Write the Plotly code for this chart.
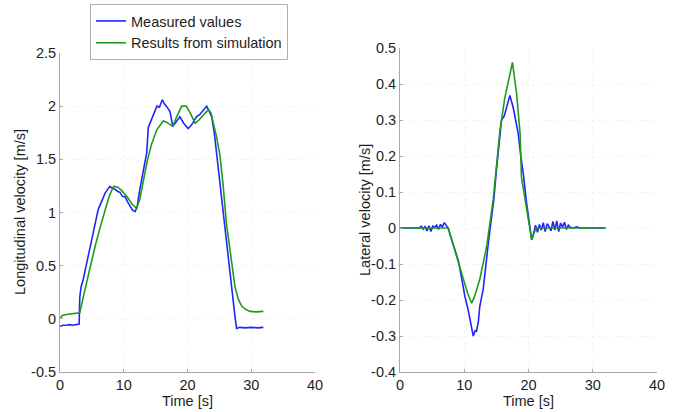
import plotly.graph_objects as go

# ---------------- data ----------------
# Left panel: longitudinal velocity [m/s]
long_meas_t = [0, 0.5, 1, 1.5, 2, 2.5, 3.0, 3.1, 3.3, 3.6, 4.0, 4.4, 5.0, 5.5, 6.0, 6.5,
               7.06, 7.5, 7.8, 8.2, 8.6, 9.0, 9.4, 9.8, 10.2, 10.6, 11.0, 11.4, 11.8, 12.1,
               12.5, 13.0, 13.6, 13.85, 14.4, 14.9, 15.2, 15.6, 16.05, 16.4, 16.7, 17.25,
               17.7, 18.2, 18.8, 19.4, 20.1, 20.6, 21.0, 21.4, 21.9, 22.4, 23.0, 23.5,
               23.8, 24.2, 24.6, 25.3, 26.1, 26.8, 27.45, 27.7, 28.2, 29, 30, 31, 31.9]
long_meas_v = [-0.07, -0.06, -0.06, -0.055, -0.06, -0.055, -0.05, 0.2, 0.3, 0.36, 0.47, 0.59,
               0.74, 0.86, 1.03, 1.10, 1.18, 1.22, 1.245, 1.23, 1.22, 1.20, 1.19, 1.15, 1.15,
               1.10, 1.06, 1.02, 1.01, 1.05, 1.21, 1.38, 1.56, 1.80, 1.88, 1.95, 2.00, 1.99,
               2.06, 2.02, 2.00, 1.95, 1.81, 1.85, 1.90, 1.84, 1.79, 1.82, 1.86, 1.90, 1.92,
               1.96, 2.00, 1.94, 1.90, 1.75, 1.53, 1.15, 0.74, 0.38, 0.02, -0.09, -0.08,
               -0.085, -0.08, -0.085, -0.08]

long_sim_t = [0, 0.3, 1.0, 2.0, 3.1, 3.9, 4.5, 5.5, 6.3, 7.06, 7.7, 8.4, 9.0, 9.6, 10.5,
              11.3, 12.0, 12.5, 13.1, 13.7, 14.4, 15.2, 16.2, 16.7, 17.7, 18.3, 19.1, 19.8,
              20.4, 21.2, 21.8, 22.4, 23.3, 23.7, 24.05, 24.6, 25.1, 25.6, 26.1, 26.8,
              27.45, 28.0, 28.5, 29.1, 29.8, 30.8, 31.9]
long_sim_v = [0.0, 0.03, 0.04, 0.05, 0.057, 0.27, 0.43, 0.68, 0.86, 1.03, 1.15, 1.245, 1.24,
              1.21, 1.15, 1.08, 1.04, 1.12, 1.31, 1.49, 1.65, 1.78, 1.86, 1.85, 1.81, 1.90,
              2.0, 2.0, 1.94, 1.84, 1.87, 1.91, 1.97, 1.93, 1.84, 1.70, 1.53, 1.25, 0.90,
              0.58, 0.30, 0.18, 0.12, 0.09, 0.07, 0.065, 0.07]

# Right panel: lateral velocity [m/s]
lat_meas_t = [0, 3.0, 3.3, 3.6, 3.9, 4.2, 4.5, 4.8, 5.1, 5.4, 5.7, 6.0, 6.3, 6.6, 6.9, 7.2,
              7.5, 8.0, 8.5, 9.07, 9.6, 10.1, 10.6, 11.0, 11.4, 11.7, 11.9, 12.2, 12.4,
              12.95, 13.3, 13.7, 14.25, 14.6, 15.0, 15.4, 15.8, 16.2, 16.6, 17.1, 17.6,
              18.0, 18.4, 18.8, 19.2, 19.7, 20.2, 20.5, 20.8, 21.1, 21.4, 21.7, 22.0, 22.3,
              22.6, 22.9, 23.2, 23.5, 23.8, 24.1, 24.4, 24.7, 25.0, 25.3, 25.6, 25.9, 26.2,
              26.5, 27.0, 27.5, 28, 32]
lat_meas_v = [0, 0, 0.005, -0.003, 0.004, -0.008, 0.006, -0.01, 0.005, 0.002, 0.008, -0.004,
              0.01, 0.003, 0.015, 0.008, 0.0, -0.03, -0.06, -0.09, -0.14, -0.19, -0.227,
              -0.26, -0.30, -0.285, -0.287, -0.26, -0.22, -0.17, -0.11, -0.05, 0.03, 0.078,
              0.16, 0.23, 0.30, 0.31, 0.336, 0.368, 0.336, 0.30, 0.262, 0.2, 0.15, 0.07,
              -0.005, -0.033, -0.015, 0.008, -0.012, 0.01, -0.006, 0.015, -0.01, 0.012,
              0.004, -0.008, 0.018, -0.006, 0.02, -0.01, 0.014, 0.002, 0.016, -0.004, 0.008,
              0.002, 0.0, 0.003, 0.0, 0.0]

lat_sim_t = [0, 7.5, 8.5, 9.5, 10.5, 11.15, 11.6, 12.4, 13.5, 14.5, 15.55, 16.3, 16.85,
             17.5, 18.15, 18.7, 18.9, 19.7, 20.5, 20.9, 21.2, 22, 32]
lat_sim_v = [0, 0, -0.06, -0.12, -0.18, -0.209, -0.19, -0.144, -0.05, 0.078, 0.27, 0.36,
             0.41, 0.46, 0.373, 0.26, 0.142, 0.05, -0.033, -0.012, 0.0, 0.0, 0.0]

x_ticks = [0, 10, 20, 30, 40]
x_ticktext = ["0", "10", "20", "30", "40"]
left_y_ticks = [-0.5, 0, 0.5, 1, 1.5, 2, 2.5]
left_y_ticktext = ["-0.5", "0", "0.5", "1", "1.5", "2", "2.5"]
right_y_ticks = [-0.4, -0.3, -0.2, -0.1, 0, 0.1, 0.2, 0.3, 0.4, 0.5]
right_y_ticktext = ["-0.4", "-0.3", "-0.2", "-0.1", "0", "0.1", "0.2", "0.3", "0.4", "0.5"]

series_names = ["Measured values", "Results from simulation"]

# ---------------- styling ----------------
W, H = 679, 412
BLUE = "#2323ff"
GREEN = "#1e9a1e"
FONT = "Liberation Sans, Arial, sans-serif"
TXT = "#1e1e1e"
AX = "#a8a8a8"
GRID = "#f3f3f3"
FS = 14.5

fig = go.Figure()
fig.add_trace(go.Scatter(x=long_meas_t, y=long_meas_v, mode="lines", name=series_names[0],
                         line=dict(color=BLUE, width=1.6), xaxis="x", yaxis="y"))
fig.add_trace(go.Scatter(x=long_sim_t, y=long_sim_v, mode="lines", name=series_names[1],
                         line=dict(color=GREEN, width=1.6), xaxis="x", yaxis="y"))
fig.add_trace(go.Scatter(x=lat_meas_t, y=lat_meas_v, mode="lines", name=series_names[0],
                         line=dict(color=BLUE, width=1.6), xaxis="x2", yaxis="y2",
                         showlegend=False))
fig.add_trace(go.Scatter(x=lat_sim_t, y=lat_sim_v, mode="lines", name=series_names[1],
                         line=dict(color=GREEN, width=1.6), xaxis="x2", yaxis="y2",
                         showlegend=False))

def px_x(p):
    return p / W

def px_y(p):
    return 1 - p / H

common_axis = dict(showline=True, linecolor=AX, linewidth=1, ticks="inside", ticklen=3,
                   tickcolor=AX, showgrid=True, gridcolor=GRID, griddash="dot",
                   zeroline=False, tickfont=dict(family=FONT, size=FS, color=TXT),
                   automargin=False, mirror=False)

fig.update_layout(
    width=W, height=H,
    margin=dict(l=0, r=0, t=0, b=0),
    paper_bgcolor="white", plot_bgcolor="white",
    font=dict(family=FONT, size=FS, color=TXT),
    xaxis=dict(domain=[px_x(60), px_x(315)], range=[0, 40], tickvals=x_ticks,
               ticktext=x_ticktext, anchor="y", ticklabelstandoff=0, **common_axis),
    yaxis=dict(domain=[px_y(372), px_y(53)], range=[-0.5, 2.5], tickvals=left_y_ticks,
               ticktext=left_y_ticktext, anchor="x", **common_axis),
    xaxis2=dict(domain=[px_x(400), px_x(657)], range=[0, 40], tickvals=x_ticks,
                ticktext=x_ticktext, anchor="y2", ticklabelstandoff=0, **common_axis),
    yaxis2=dict(domain=[px_y(372), px_y(48)], range=[-0.4, 0.5], tickvals=right_y_ticks,
                ticktext=right_y_ticktext, anchor="x2", **common_axis),
    legend=dict(x=px_x(90), y=px_y(4), xanchor="left", yanchor="top",
                bgcolor="white", bordercolor="#b0b0b0", borderwidth=1,
                font=dict(family=FONT, size=FS, color=TXT), tracegroupgap=0,
                itemwidth=30),
    showlegend=True,
)

annots = [
    dict(text="Time [s]", x=px_x(187), y=px_y(401)),
    dict(text="Time [s]", x=px_x(528), y=px_y(401)),
    dict(text="Longitudinal velocity [m/s]", x=px_x(20), y=px_y(212), textangle=-90),
    dict(text="Lateral velocity [m/s]", x=px_x(365), y=px_y(210), textangle=-90),
]
for a in annots:
    fig.add_annotation(xref="paper", yref="paper", showarrow=False,
                       xanchor="center", yanchor="middle",
                       font=dict(family=FONT, size=FS, color=TXT), **a)

fig.write_html("out.html")
